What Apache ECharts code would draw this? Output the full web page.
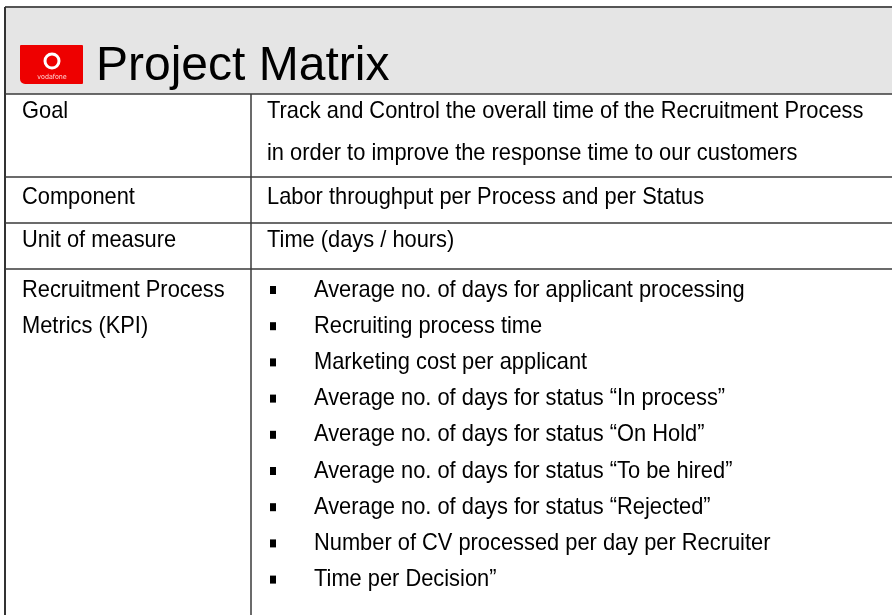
<!DOCTYPE html>
<html>
<head>
<meta charset="utf-8">
<script src="https://cdn.jsdelivr.net/npm/echarts@6/dist/echarts.min.js"></script>
<style>
html,body{margin:0;padding:0;background:#fff;}
#main{width:892px;height:615px;}
</style>
</head>
<body>
<div id="main"></div>
<script>
// ---- data ----
var title = 'Project Matrix';
var logoText = 'vodafone';
var rowLabels = [
  ['Goal'],
  ['Component'],
  ['Unit of measure'],
  ['Recruitment Process', 'Metrics (KPI)']
];
var rowContents = [
  ['Track and Control the overall time of the Recruitment Process', 'in order to improve the response time to our customers'],
  ['Labor throughput per Process and per Status'],
  ['Time (days / hours)'],
  []
];
var kpiItems = [
  'Average no. of days for applicant processing',
  'Recruiting process time',
  'Marketing cost per applicant',
  'Average no. of days for status \u201cIn process\u201d',
  'Average no. of days for status \u201cOn Hold\u201d',
  'Average no. of days for status \u201cTo be hired\u201d',
  'Average no. of days for status \u201cRejected\u201d',
  'Number of CV processed per day per Recruiter',
  'Time per Decision\u201d'
];

// ---- layout ----
var W = 892, H = 615;
var leftX = 5, colX = 251, headerTop = 7, headerBottom = 94;
var rowLines = [94, 177, 223, 269];
var rowTextY = [111, 197, 240, 290];
var lineGap = 42, kpiGap = 36.2;
var bodyFont = '"Liberation Sans",Arial,sans-serif';
var fs = 24;
var narrow = 0.91;
var lineColor = '#3a3a3a';

var els = [];
function bodyText(t, x, y) {
  els.push({type:'text', x:x, y:y, scaleX:narrow, scaleY:1,
    style:{text:t, x:0, y:0, fill:'#000', font:fs+'px '+bodyFont, align:'left', verticalAlign:'middle'}});
}
// header background
els.push({type:'rect', shape:{x:leftX, y:headerTop, width:W-leftX, height:headerBottom-headerTop}, style:{fill:'#e5e5e5'}});
// top border
els.push({type:'line', shape:{x1:leftX, y1:headerTop, x2:W, y2:headerTop}, style:{stroke:'#555', lineWidth:2}});
// left border
els.push({type:'line', shape:{x1:leftX, y1:headerTop, x2:leftX, y2:H}, style:{stroke:'#333', lineWidth:2}});
// logo
els.push({type:'rect', shape:{x:20, y:45, width:63, height:39, r:[1,1,1,5]}, style:{fill:'#ee0000'}});
els.push({type:'circle', shape:{cx:52, cy:61, r:7}, style:{fill:'none', stroke:'#fff', lineWidth:3}});
els.push({type:'text', style:{text:logoText, x:52, y:77, fill:'#ffd6d6', font:'7px "DejaVu Sans Condensed",sans-serif', align:'center', verticalAlign:'middle'}});
// title
els.push({type:'text', style:{text:title, x:96, y:67, fill:'#000', font:'48px "Liberation Sans",Arial,sans-serif', align:'left', verticalAlign:'middle'}});
// horizontal row lines
rowLines.forEach(function(y){
  els.push({type:'line', shape:{x1:leftX, y1:y, x2:W, y2:y}, style:{stroke:lineColor, lineWidth:1.5}});
});
// column divider
els.push({type:'line', shape:{x1:colX, y1:headerBottom, x2:colX, y2:H}, style:{stroke:lineColor, lineWidth:1.5}});
// row labels and contents
rowLabels.forEach(function(lines, i){
  var gap = (i === 3) ? kpiGap : lineGap;
  lines.forEach(function(t, j){ bodyText(t, 22, rowTextY[i] + j*gap); });
});
rowContents.forEach(function(lines, i){
  lines.forEach(function(t, j){ bodyText(t, 267, rowTextY[i] + j*lineGap); });
});
kpiItems.forEach(function(t, k){
  var y = rowTextY[3] + k*kpiGap;
  els.push({type:'rect', shape:{x:270, y:y-4, width:6, height:8}, style:{fill:'#000'}});
  bodyText(t, 314, y);
});

var chart = echarts.init(document.getElementById('main'), null, {renderer:'canvas'});
chart.setOption({
  backgroundColor:'#fff',
  animation:false,
  graphic:{elements:els}
});
</script>
</body>
</html>
